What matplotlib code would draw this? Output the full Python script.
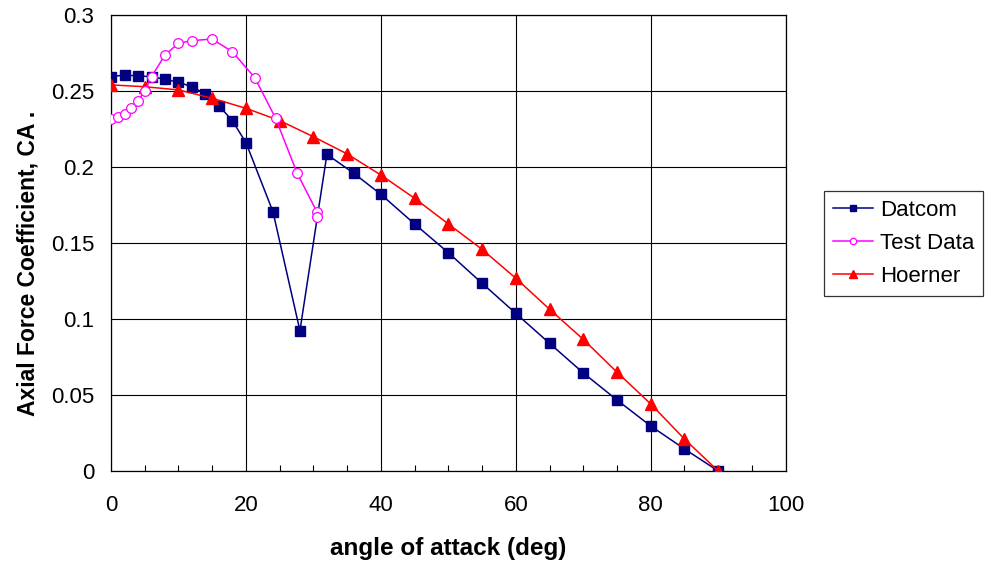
import matplotlib
matplotlib.use('Agg')
import matplotlib.pyplot as plt
from matplotlib.ticker import MultipleLocator

plt.rcParams['font.family'] = ['Liberation Sans', 'DejaVu Sans']

# Datcom prediction
datcom_alpha = [0, 2, 4, 6, 8, 10, 12, 14, 16, 18, 20, 24, 28, 32, 36, 40,
                45, 50, 55, 60, 65, 70, 75, 80, 85, 90]
datcom_ca = [0.2594, 0.2605, 0.2599, 0.2594, 0.2577, 0.2557, 0.2528, 0.248,
             0.2403, 0.2303, 0.216, 0.1706, 0.0923, 0.2083, 0.1958, 0.182,
             0.1625, 0.1436, 0.1235, 0.1037, 0.084, 0.0645, 0.0467, 0.0296,
             0.0145, 0.0]

# wind tunnel test
test_alpha = [0, 1, 2, 3, 4, 5, 6, 8, 10, 12, 15, 18, 21.3, 24.4, 27.6,
              30.5, 30.5]
test_ca = [0.2314, 0.2331, 0.2349, 0.2386, 0.2434, 0.25, 0.2594, 0.2737,
           0.2814, 0.2831, 0.2842, 0.2757, 0.2588, 0.232, 0.1958, 0.1706,
           0.1673]

# Hoerner estimate
hoerner_alpha = [0, 5, 10, 15, 20, 25, 30, 35, 40, 45, 50, 55, 60, 65, 70,
                 75, 80, 85, 90]
hoerner_ca = [0.254, 0.2528, 0.2507, 0.2452, 0.2386, 0.2305, 0.2199, 0.2086,
              0.1947, 0.1794, 0.1625, 0.1458, 0.1268, 0.1064, 0.0866, 0.065,
              0.0441, 0.021, 0.0]

fig = plt.figure(figsize=(9.87, 5.65), dpi=100)
ax = fig.add_axes([0.1125, 0.1664, 0.6835, 0.8071])

ax.plot(datcom_alpha, datcom_ca, color='#000080', marker='s', markersize=6.5,
        linewidth=1.1, label='Datcom', zorder=3)
ax.plot(test_alpha, test_ca, color='#FF00FF', marker='o', markersize=7,
        markerfacecolor='white', markeredgewidth=0.9, linewidth=1.1,
        label='Test Data', zorder=4)
ax.plot(hoerner_alpha, hoerner_ca, color='#FF0000', marker='^', markersize=8,
        linewidth=1.1, label='Hoerner', zorder=3)

ax.set_xlim(0, 100)
ax.set_ylim(0, 0.3)
ax.xaxis.set_major_locator(MultipleLocator(20))
ax.xaxis.set_minor_locator(MultipleLocator(5))
ax.set_yticks([0, 0.05, 0.1, 0.15, 0.2, 0.25, 0.3])
ax.set_yticklabels(['0', '0.05', '0.1', '0.15', '0.2', '0.25', '0.3'])
ax.grid(True, which='major', color='black', linewidth=0.8)
ax.tick_params(which='major', length=0, labelsize=16)
ax.tick_params(axis='x', which='major', pad=17)
ax.tick_params(axis='y', which='major', pad=12)
ax.tick_params(axis='x', which='minor', direction='in', length=4, width=0.8)
for s in ax.spines.values():
    s.set_linewidth(0.9)

ax.set_xlabel('angle of attack (deg)', fontsize=17.5, fontweight='bold')
ax.set_ylabel('Axial Force Coefficient, CA .', fontsize=16.5, fontweight='bold')
ax.xaxis.set_label_coords(0.5, -0.145)
ax.yaxis.set_label_coords(-0.106, 0.456)

leg = fig.legend(loc='center left', bbox_to_anchor=(0.835, 0.569),
                 fontsize=16, frameon=True, fancybox=False, markerscale=0.65,
                 handlelength=1.8, handletextpad=0.3, borderpad=0.4,
                 labelspacing=0.55, borderaxespad=0)
leg.get_frame().set_edgecolor('black')
leg.get_frame().set_linewidth(0.9)

fig.savefig('out.png', dpi=100)
